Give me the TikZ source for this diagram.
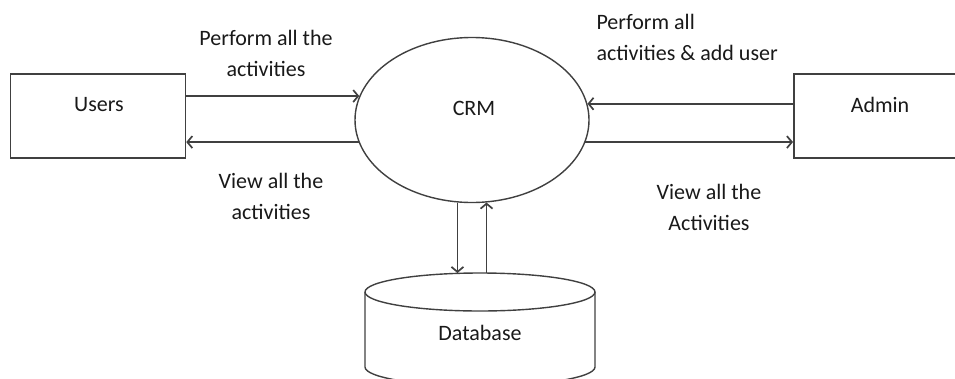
\documentclass[tikz,border=0pt]{standalone}
\usepackage{fontspec}
\setmainfont{Carlito}
\usetikzlibrary{shapes.geometric, arrows.meta, positioning}

\begin{document}
\begin{tikzpicture}[x=1pt,y=-1pt,
  box/.style={draw=black!75,line width=1.5pt,minimum width=175pt,minimum height=84pt},
  flow/.style={draw=black!75,line width=1.7pt,-{Straight Barb[length=5pt,width=12pt]}},
  lbl/.style={text=black!90,align=center,font=\fontsize{22}{31}\selectfont}]
\useasboundingbox (0,0) rectangle (955,378);
\clip (0,0) rectangle (955,378);

% Process
\node[ellipse,draw=black!75,line width=1.4pt,minimum width=234pt,minimum height=165pt] (crm) at (472,120) {};
\node[lbl] (crmtext) at (474,108) {CRM};

% External entities
\node[box] (users) at (98,116) {};
\node[lbl] (userstext) at (99,105) {Users};
\node[box,minimum width=180pt,anchor=west] (admin) at (793,116) {};
\node[lbl] (admintext) at (880,105) {Admin};

% Data store
\draw[black!75,line width=1.4pt] (365,292) -- (365,367) arc[start angle=180,end angle=360,x radius=115pt,y radius=19pt] -- (595,292);
\draw[black!75,line width=1.4pt] (480,292) ellipse[x radius=115pt,y radius=19pt];
\coordinate (dbtop) at (480,273);
\node[lbl] (db) at (480,333) {Database};

% Flows
\draw[flow] (users.east |- crm.168) -- (crm.168);
\draw[flow] (crm.191) -- (users.east |- crm.191);
\draw[flow] (admin.west |- crm.8) -- (crm.8);
\draw[flow] (crm.349) -- (admin.west |- crm.349);
\draw[flow] (crm.260) -- (crm.260 |- dbtop);
\draw[flow] (crm.280 |- dbtop) -- (crm.280);

% Flow labels
\node[lbl] (userin) at (266,53) {Perform all the\\activities};
\node[lbl] (userout) at (271,196) {View all the\\activities};
\node[lbl,align=left,anchor=west] (adminin) at (593,37) {Perform all\\activities \& add user};
\node[lbl] (adminout) at (709,207) {View all the\\Activities};
\end{tikzpicture}
\end{document}
